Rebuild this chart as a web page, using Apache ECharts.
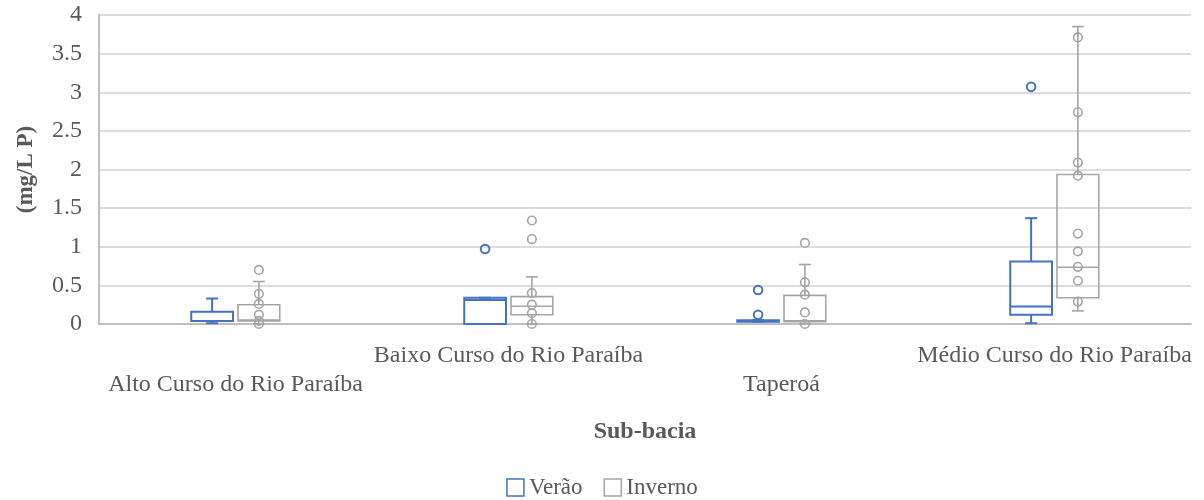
<!DOCTYPE html>
<html>
<head>
<meta charset="utf-8">
<script src="https://cdn.jsdelivr.net/npm/echarts@6/dist/echarts.min.js"></script>
<style>html,body{margin:0;padding:0;background:#fff}#c{width:1204px;height:500px}</style>
</head>
<body>
<div id="c"></div>
<script>
const categories = ['Alto Curso do Rio Paraíba', 'Baixo Curso do Rio Paraíba', 'Taperoá', 'Médio Curso do Rio Paraíba'];
// [min, Q1, median, Q3, max]
const veraoBox = [
  [0.01, 0.04, 0.04, 0.16, 0.33],
  [0.00, 0.00, 0.31, 0.34, 0.34],
  [0.03, 0.03, 0.04, 0.05, 0.05],
  [0.01, 0.12, 0.225, 0.81, 1.37]
];
const invernoBox = [
  [0.00, 0.04, 0.05, 0.25, 0.55],
  [0.00, 0.12, 0.23, 0.355, 0.61],
  [0.00, 0.03, 0.04, 0.37, 0.77],
  [0.17, 0.34, 0.735, 1.935, 3.85]
];
const veraoPoints = [[], [0.97], [0.44, 0.12], [3.07]];
const invernoPoints = [
  [0.70, 0.39, 0.26, 0.12, 0.04, 0.0],
  [1.34, 1.10, 0.40, 0.25, 0.14, 0.0],
  [1.05, 0.54, 0.38, 0.15, 0.0],
  [3.71, 2.74, 2.09, 1.92, 1.17, 0.94, 0.74, 0.56, 0.29]
];

const BLUE = '#4472C4', GRAY = '#A5A5A5', TXT = '#595959', FONT = 'Liberation Serif';

function geom(api, side) {
  const ci = api.value(0);
  const bandW = api.size([1, 0])[0];
  const boxW = bandW * 0.153;
  const cx = api.coord([ci, 0])[0] + side * (boxW / 2 + 2.5);
  return {ci, boxW, cx};
}
function boxRender(side, color, lw) {
  return function (params, api) {
    const g = geom(api, side);
    const y = k => api.coord([g.ci, api.value(k)])[1];
    const yMin = y(1), yQ1 = y(2), yMed = y(3), yQ3 = y(4), yMax = y(5);
    const capW = 12, cx = g.cx, hw = g.boxW / 2;
    const ls = {stroke: color, lineWidth: lw, fill: null};
    return {type: 'group', children: [
      {type: 'line', shape: {x1: cx, y1: yQ3, x2: cx, y2: yMax}, style: ls},
      {type: 'line', shape: {x1: cx - capW / 2, y1: yMax, x2: cx + capW / 2, y2: yMax}, style: ls},
      {type: 'line', shape: {x1: cx, y1: yQ1, x2: cx, y2: yMin}, style: ls},
      {type: 'line', shape: {x1: cx - capW / 2, y1: yMin, x2: cx + capW / 2, y2: yMin}, style: ls},
      {type: 'rect', shape: {x: cx - hw, y: yQ3, width: g.boxW, height: Math.max(yQ1 - yQ3, 0.5)}, style: {stroke: color, lineWidth: lw, fill: null}},
      {type: 'line', shape: {x1: cx - hw, y1: yMed, x2: cx + hw, y2: yMed}, style: ls}
    ]};
  };
}
function pointRender(side, color, lw) {
  return function (params, api) {
    const g = geom(api, side);
    const yy = api.coord([g.ci, api.value(1)])[1];
    return {type: 'circle', shape: {cx: g.cx, cy: yy, r: 4.3}, style: {stroke: color, lineWidth: lw, fill: null}};
  };
}
const boxData = arr => arr.map((b, i) => [i].concat(b));
const ptData = arr => {
  const out = [];
  arr.forEach((list, i) => list.forEach(v => out.push([i, v])));
  return out;
};

const chart = echarts.init(document.getElementById('c'), null, {renderer: 'canvas'});
chart.setOption({
  animation: false,
  textStyle: {fontFamily: FONT, color: TXT},
  grid: {left: 99, right: 13, top: 15, bottom: 176, outerBoundsMode: 'none', containLabel: false},
  legend: {
    top: 471, left: 'center', itemWidth: 17, itemHeight: 17, itemGap: 21,
    textStyle: {fontFamily: FONT, fontSize: 23, color: TXT},
    data: [
      {name: 'Verão', icon: 'rect', itemStyle: {color: 'rgba(255,255,255,0)', borderColor: BLUE, borderWidth: 1.5}},
      {name: 'Inverno', icon: 'rect', itemStyle: {color: 'rgba(255,255,255,0)', borderColor: GRAY, borderWidth: 1.5}}
    ]
  },
  xAxis: {
    type: 'category', data: categories,
    name: 'Sub-bacia', nameLocation: 'middle', nameGap: 96,
    nameTextStyle: {fontFamily: FONT, fontSize: 24, fontWeight: 'bold', color: TXT},
    axisLine: {lineStyle: {color: '#BFBFBF', width: 2}},
    axisTick: {show: false},
    axisLabel: {
      interval: 0, margin: 17, fontFamily: FONT, fontSize: 24, color: TXT, lineHeight: 29,
      formatter: (v, i) => (i % 2 === 0 ? '\n' + v : v)
    }
  },
  yAxis: {
    type: 'value', min: 0, max: 4, interval: 0.5,
    name: '(mg/L P)', nameLocation: 'middle', nameGap: 61, nameRotate: 90,
    nameTextStyle: {fontFamily: FONT, fontSize: 23, fontWeight: 'bold', color: TXT},
    axisLine: {show: true, lineStyle: {color: '#BFBFBF', width: 2}},
    axisTick: {show: false},
    axisLabel: {margin: 17, fontFamily: FONT, fontSize: 24, color: TXT},
    splitLine: {lineStyle: {color: '#D0D0D0', width: 1.5}}
  },
  series: [
    {name: 'Verão', type: 'custom', itemStyle: {color: BLUE}, renderItem: boxRender(-1, BLUE, 2),
     encode: {x: 0, y: [1, 2, 3, 4, 5]}, data: boxData(veraoBox), z: 3},
    {name: 'Inverno', type: 'custom', itemStyle: {color: GRAY}, renderItem: boxRender(1, GRAY, 1.6),
     encode: {x: 0, y: [1, 2, 3, 4, 5]}, data: boxData(invernoBox), z: 3},
    {name: 'Verão', type: 'custom', itemStyle: {color: BLUE}, renderItem: pointRender(-1, BLUE, 2),
     encode: {x: 0, y: 1}, data: ptData(veraoPoints), z: 4},
    {name: 'Inverno', type: 'custom', itemStyle: {color: GRAY}, renderItem: pointRender(1, GRAY, 1.6),
     encode: {x: 0, y: 1}, data: ptData(invernoPoints), z: 4}
  ]
});
</script>
</body>
</html>
